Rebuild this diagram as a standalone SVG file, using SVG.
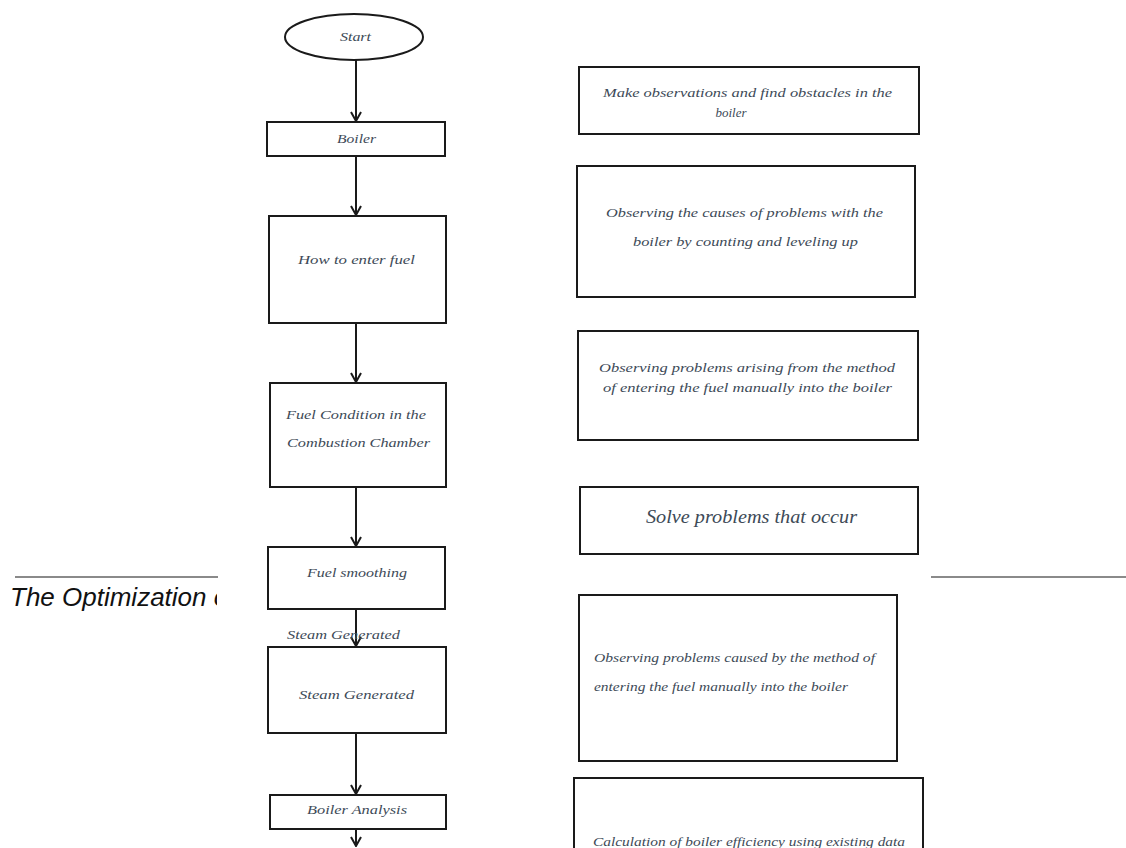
<svg xmlns="http://www.w3.org/2000/svg" width="1126" height="848" viewBox="0 0 1126 848">
  <defs>
    <style>
      .box { fill: #ffffff; stroke: #1a1a1a; stroke-width: 2; }
      .conn { stroke: #1a1a1a; stroke-width: 2; fill: none; }
      .lbl { font-family: "Liberation Serif", "DejaVu Serif", serif; font-style: italic; font-size: 13px; fill: #3d4a57; }
      .big { font-size: 18px; }
      .rule { stroke: #8a8a8a; stroke-width: 2; }
      .page { font-family: "Liberation Sans", Arial, sans-serif; font-style: italic; font-size: 26px; fill: #111111; }
    </style>
    <marker id="arr" viewBox="0 0 12 12" refX="11" refY="6" markerWidth="12" markerHeight="12" markerUnits="userSpaceOnUse" orient="auto">
      <path d="M2,1 L11,6 L2,11" fill="none" stroke="#1a1a1a" stroke-width="2"/>
    </marker>
    <clipPath id="clipLeft"><rect x="0" y="570" width="217" height="50"/></clipPath>
  </defs>

  <rect width="1126" height="848" fill="#ffffff"/>

  <!-- page artefacts -->
  <g id="page-rules">
    <line class="rule" x1="15" y1="577" x2="218" y2="577"/>
    <line class="rule" x1="931" y1="577" x2="1126" y2="577"/>
    <text class="page" x="10" y="606" clip-path="url(#clipLeft)">The Optimization o</text>
  </g>

  <!-- connectors -->
  <g id="connectors">
    <line class="conn" x1="356" y1="60" x2="356" y2="121" marker-end="url(#arr)"/>
    <line class="conn" x1="356" y1="156" x2="356" y2="215" marker-end="url(#arr)"/>
    <line class="conn" x1="356" y1="323" x2="356" y2="382" marker-end="url(#arr)"/>
    <line class="conn" x1="356" y1="487" x2="356" y2="546" marker-end="url(#arr)"/>
    <line class="conn" x1="356" y1="609" x2="356" y2="646" marker-end="url(#arr)"/>
    <line class="conn" x1="356" y1="733" x2="356" y2="794" marker-end="url(#arr)"/>
    <line class="conn" x1="356" y1="829" x2="356" y2="846" marker-end="url(#arr)"/>
    <text class="lbl" x="287" y="639" textLength="113" lengthAdjust="spacingAndGlyphs">Steam Generated</text>
  </g>

  <!-- left column -->
  <g id="start">
    <ellipse class="box" cx="354" cy="37" rx="69" ry="23"/>
    <text class="lbl" x="340" y="41" textLength="31" lengthAdjust="spacingAndGlyphs">Start</text>
  </g>
  <g id="boiler">
    <rect class="box" x="267" y="122" width="178" height="34"/>
    <text class="lbl" x="337" y="143" textLength="39" lengthAdjust="spacingAndGlyphs">Boiler</text>
  </g>
  <g id="enter-fuel">
    <rect class="box" x="269" y="216" width="177" height="107"/>
    <text class="lbl" x="298" y="264" textLength="117" lengthAdjust="spacingAndGlyphs">How to enter fuel</text>
  </g>
  <g id="fuel-condition">
    <rect class="box" x="270" y="383" width="176" height="104"/>
    <text class="lbl" x="286" y="419" textLength="140" lengthAdjust="spacingAndGlyphs">Fuel Condition  in the</text>
    <text class="lbl" x="287" y="447" textLength="143" lengthAdjust="spacingAndGlyphs">Combustion  Chamber</text>
  </g>
  <g id="fuel-smoothing">
    <rect class="box" x="268" y="547" width="177" height="62"/>
    <text class="lbl" x="307" y="577" textLength="100" lengthAdjust="spacingAndGlyphs">Fuel smoothing</text>
  </g>
  <g id="steam-generated">
    <rect class="box" x="268" y="647" width="178" height="86"/>
    <text class="lbl" x="299" y="699" textLength="115" lengthAdjust="spacingAndGlyphs">Steam Generated</text>
  </g>
  <g id="boiler-analysis">
    <rect class="box" x="270" y="795" width="176" height="34"/>
    <text class="lbl" x="307" y="814" textLength="100" lengthAdjust="spacingAndGlyphs">Boiler Analysis</text>
  </g>

  <!-- right column -->
  <g id="observe-obstacles">
    <rect class="box" x="579" y="67" width="340" height="67"/>
    <text class="lbl" x="603" y="97" textLength="289" lengthAdjust="spacingAndGlyphs">Make observations and find obstacles in the</text>
    <text class="lbl" x="731" y="117" text-anchor="middle">boiler</text>
  </g>
  <g id="observe-causes">
    <rect class="box" x="577" y="166" width="338" height="131"/>
    <text class="lbl" x="606" y="217" textLength="277" lengthAdjust="spacingAndGlyphs">Observing the causes of problems with the</text>
    <text class="lbl" x="633" y="246" textLength="225" lengthAdjust="spacingAndGlyphs">boiler by counting and leveling up</text>
  </g>
  <g id="observe-arising">
    <rect class="box" x="578" y="331" width="340" height="109"/>
    <text class="lbl" x="599" y="372" textLength="296" lengthAdjust="spacingAndGlyphs">Observing problems arising  from the method</text>
    <text class="lbl" x="603" y="392" textLength="289" lengthAdjust="spacingAndGlyphs">of entering the fuel manually into the boiler</text>
  </g>
  <g id="solve">
    <rect class="box" x="580" y="487" width="338" height="67"/>
    <text class="lbl big" x="646" y="523" textLength="211" lengthAdjust="spacingAndGlyphs">Solve problems that occur</text>
  </g>
  <g id="observe-caused">
    <rect class="box" x="579" y="595" width="318" height="166"/>
    <text class="lbl" x="594" y="662" textLength="281" lengthAdjust="spacingAndGlyphs">Observing problems caused by the method of</text>
    <text class="lbl" x="594" y="691" textLength="254" lengthAdjust="spacingAndGlyphs">entering the fuel manually  into the boiler</text>
  </g>
  <g id="calculation">
    <rect class="box" x="574" y="778" width="349" height="80"/>
    <text class="lbl" x="593" y="846" textLength="312" lengthAdjust="spacingAndGlyphs">Calculation  of boiler efficiency using existing data</text>
  </g>
</svg>
